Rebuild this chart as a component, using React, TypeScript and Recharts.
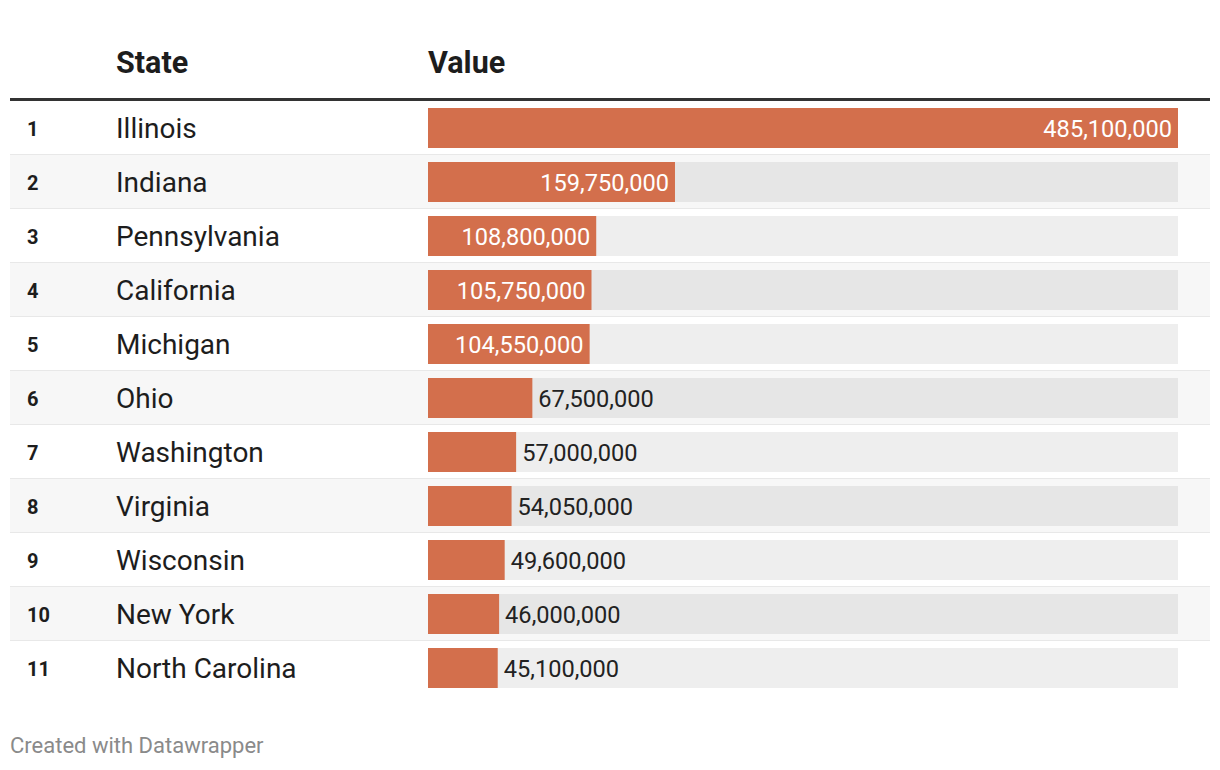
import React from 'react';
import { BarChart, Bar, XAxis, YAxis, LabelList } from 'recharts';

const ranks = [1, 2, 3, 4, 5, 6, 7, 8, 9, 10, 11];
const states = [
  'Illinois',
  'Indiana',
  'Pennsylvania',
  'California',
  'Michigan',
  'Ohio',
  'Washington',
  'Virginia',
  'Wisconsin',
  'New York',
  'North Carolina',
];
const values = [
  485100000, 159750000, 108800000, 105750000, 104550000, 67500000, 57000000, 54050000, 49600000,
  46000000, 45100000,
];

const data = states.map((state, i) => ({ state, rank: ranks[i], value: values[i] }));

const BAR_COLOR = '#d36f4c';
const FONT = 'Roboto, "Noto Sans", sans-serif';
const fmt = (v: number) => v.toLocaleString('en-US');

// row stripe + separator + bar track, drawn behind each bar
const RowBackground = (props: any) => {
  const { x, y, width, height, index } = props;
  const gray = index % 2 === 1;
  return (
    <g>
      <rect x={10} y={y - 7} width={1200} height={54} fill={gray ? '#f7f7f7' : '#ffffff'} />
      {index < states.length - 1 && <rect x={10} y={y + 46} width={1200} height={2} fill="#e8e8e8" />}
      <rect x={x} y={y} width={width} height={height} fill={gray ? '#e6e6e6' : '#eeeeee'} />
    </g>
  );
};

const StateTick = (props: any) => {
  const { y, payload } = props;
  return (
    <g>
      <text x={27} y={y} dy={8} fontFamily={FONT} fontSize={20} fontWeight={700} fill="#1d1d1d">
        {ranks[payload.index]}
      </text>
      <text x={116} y={y} dy={10} fontFamily={FONT} fontSize={28} fill="#1d1d1d">
        {payload.value}
      </text>
    </g>
  );
};

const ValueLabel = (props: any) => {
  const { x, y, width, height, value } = props;
  const inside = width > 140;
  return (
    <text
      x={inside ? x + width - 6 : x + width + 6}
      y={y + height / 2}
      dy={8.5}
      textAnchor={inside ? 'end' : 'start'}
      fontFamily={FONT}
      fontSize={23.6}
      fill={inside ? '#ffffff' : '#222222'}
    >
      {fmt(value)}
    </text>
  );
};

export default function App() {
  return (
    <div style={{ position: 'absolute', left: 0, top: 0, width: 1220, height: 770, background: '#fff', fontFamily: FONT }}>
      <div style={{ position: 'absolute', left: 116, top: 45, fontSize: 30.5, fontWeight: 700, color: '#1d1d1d' }}>State</div>
      <div style={{ position: 'absolute', left: 428, top: 45, fontSize: 30.5, fontWeight: 700, color: '#1d1d1d' }}>Value</div>
      <div style={{ position: 'absolute', left: 10, top: 98, width: 1200, height: 4, background: '#333333' }} />
      <BarChart
        width={1220}
        height={770}
        data={data}
        layout="vertical"
        margin={{ top: 101, right: 42, bottom: 75, left: 0 }}
      >
        <XAxis type="number" hide domain={[0, 485100000]} />
        <Bar dataKey="value" fill={BAR_COLOR} barSize={40} background={RowBackground} isAnimationActive={false}>
          <LabelList dataKey="value" content={ValueLabel} />
        </Bar>
        <YAxis
          type="category"
          dataKey="state"
          width={428}
          axisLine={false}
          tickLine={false}
          interval={0}
          tick={StateTick}
        />
      </BarChart>
      <div style={{ position: 'absolute', left: 10, top: 733, fontSize: 22, color: '#8a8a8a' }}>Created with Datawrapper</div>
    </div>
  );
}
